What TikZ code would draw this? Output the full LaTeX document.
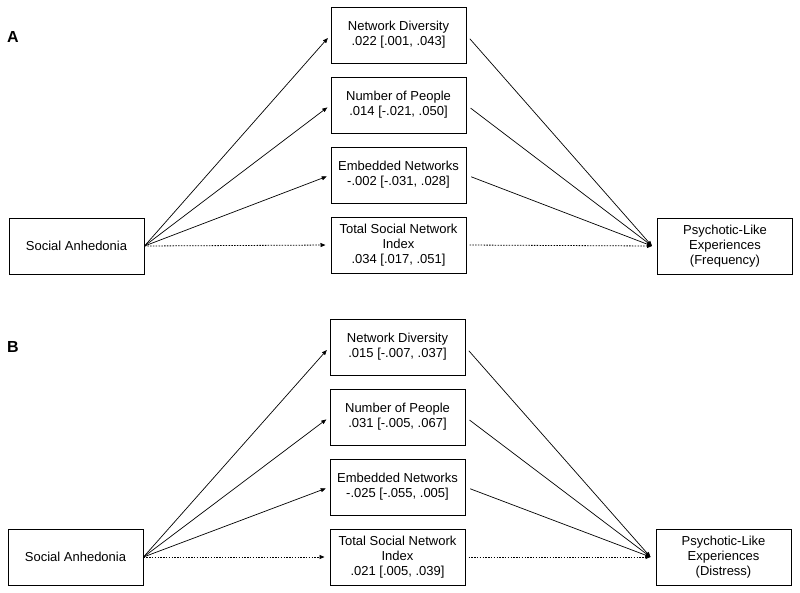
\documentclass[tikz,border=0pt]{standalone}
\usepackage{fontspec}
\setmainfont{Liberation Sans}
\usetikzlibrary{positioning,arrows.meta}

\begin{document}
\begin{tikzpicture}[x=1pt, y=-1pt, node distance={70pt}, font=\fontsize{13}{15}\selectfont,
  main/.style = {draw, line width=1pt, minimum width=135pt, minimum height=56pt, align=center, inner sep=2pt},
  link/.style = {-{Triangle[length=5pt,width=4pt]}, line width=0.7pt},
  dots/.style = {dash pattern=on 1.5pt off 1.3pt, line width=0.8pt},
  tag/.style = {font=\fontsize{16}{18}\selectfont\bfseries}]
  \useasboundingbox (0,0) rectangle (800,592);

  % panel A
  \node[tag] (A) at (13,37) {A};
  \node[main] (a1) at (76.5,246) {Social Anhedonia};
  \node[main] (a2) at (398.5,35) {Network Diversity\\.022 [.001, .043]};
  \node[main] (a3) [below of=a2] {Number of People\\.014 [-.021, .050]};
  \node[main] (a4) [below of=a3] {Embedded Networks\\-.002 [-.031, .028]};
  \node[main] (a5) [below of=a4] {Total Social Network\\Index\\.034 [.017, .051]};
  \node[main] (a6) at (725,246) {Psychotic-Like\\Experiences\\(Frequency)};
  \coordinate (ea) at ([xshift=-5pt]a6.west);

  \draw[link, shorten >=4pt] (a1.east) -- (a2.west);
  \draw[link, shorten >=4pt] (a1.east) -- (a3.west);
  \draw[link, shorten >=4pt] (a1.east) -- (a4.west);
  \draw[link, dots, shorten >=5pt] (a1.east) -- (a5.west);

  \draw[link, shorten <=5pt] (a2.east) -- (ea);
  \draw[link, shorten <=5pt] (a3.east) -- (ea);
  \draw[link, shorten <=5pt] (a4.east) -- (ea);
  \draw[link, dots, shorten <=3pt] (a5.east) -- (ea);

  % panel B
  \node[tag] (B) at (13,347) {B};
  \node[main] (b1) at (75.5,557) {Social Anhedonia};
  \node[main] (b2) at (397.5,347) {Network Diversity\\.015 [-.007, .037]};
  \node[main] (b3) [below of=b2] {Number of People\\.031 [-.005, .067]};
  \node[main] (b4) [below of=b3] {Embedded Networks\\-.025 [-.055, .005]};
  \node[main] (b5) [below of=b4] {Total Social Network\\Index\\.021 [.005, .039]};
  \node[main] (b6) at (723.5,557) {Psychotic-Like\\Experiences\\(Distress)};
  \coordinate (eb) at ([xshift=-5pt]b6.west);

  \draw[link, shorten >=4pt] (b1.east) -- (b2.west);
  \draw[link, shorten >=4pt] (b1.east) -- (b3.west);
  \draw[link, shorten >=4pt] (b1.east) -- (b4.west);
  \draw[link, dots, shorten >=5pt] (b1.east) -- (b5.west);

  \draw[link, shorten <=5pt] (b2.east) -- (eb);
  \draw[link, shorten <=5pt] (b3.east) -- (eb);
  \draw[link, shorten <=5pt] (b4.east) -- (eb);
  \draw[link, dots, shorten <=3pt] (b5.east) -- (eb);
\end{tikzpicture}
\end{document}
